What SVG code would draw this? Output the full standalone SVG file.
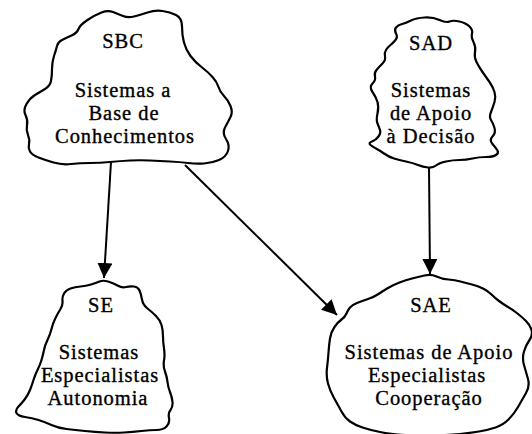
<svg xmlns="http://www.w3.org/2000/svg" width="532" height="434" viewBox="0 0 532 434">
<style>
.cloud{fill:#fff;stroke:#000;stroke-width:2.2;stroke-linejoin:round}
.t{font-size:20.5px;letter-spacing:0.95px;fill:#000;stroke:#000;stroke-width:0.35;text-anchor:middle}
.edge{fill:none;stroke:#000;stroke-width:2}
</style>
<defs>
<marker id="arr" viewBox="0 0 15 15" refX="15" refY="7.5" markerWidth="15" markerHeight="15" markerUnits="userSpaceOnUse" orient="auto">
<path d="M0,0 L15,7.5 L0,15 Z" fill="#000"/>
</marker>
</defs>
<rect width="532" height="434" fill="#fff"/>
<g id="connectors">
<line class="edge" x1="111" y1="162" x2="104" y2="278" marker-end="url(#arr)"/>
<line class="edge" x1="185" y1="165" x2="337" y2="315" marker-end="url(#arr)"/>
<line class="edge" x1="429" y1="168" x2="430" y2="274" marker-end="url(#arr)"/>
</g>
<g id="SBC" font-family="'Liberation Serif', 'DejaVu Serif', serif">
<path class="cloud" d="M78.5,29 Q80,25 87.5,20 Q95,15 101.5,12.5 Q108,10 113,12 Q118,14 123,16 Q128,18 134,16.5 Q140,15 147.5,12.5 Q155,10 162.5,11 Q170,12 176,15 Q182,18 182,26.5 Q182,35 184,42.5 Q186,50 190.5,56 Q195,62 201.5,67 Q208,72 212.5,77 Q217,82 218.5,87 Q220,92 224,96 Q228,100 230.5,106 Q233,112 230.5,117 Q228,122 225,127.5 Q222,133 226,139 Q230,145 228,151 Q226,157 219,160 Q212,163 204,163.5 Q196,164 188,163 Q180,162 170,161.5 Q160,161 150,160.5 Q140,160 130,160.5 Q120,161 110,162 Q100,163 90,163 Q80,163 71,164 Q62,165 53.5,162.5 Q45,160 38.5,157.5 Q32,155 30,151.5 Q28,148 29,144 Q30,140 28,135 Q26,130 27,125 Q28,120 25.5,115 Q23,110 26.5,104 Q30,98 35,95 Q40,92 45,89 Q50,86 51,81 Q52,76 52,69 Q52,62 54,56 Q56,50 57,46 Q58,42 62,40 Q66,38 71.5,35.5 Q77,33 78.5,29 Z"/>
<text class="t" x="123" y="48">SBC</text>
<text class="t" x="123" y="97">Sistemas a</text>
<text class="t" x="124" y="120">Base de</text>
<text class="t" x="125" y="143">Conhecimentos</text>
</g>
<g id="SAD" font-family="'Liberation Serif', 'DejaVu Serif', serif">
<path class="cloud" d="M396,27.5 Q398,25 402,24 Q406,23 411,20.5 Q416,18 424.5,17.5 Q433,17 439.5,20 Q446,23 449.5,21.5 Q453,20 459.5,21.5 Q466,23 469.5,26.5 Q473,30 472,33.5 Q471,37 473.5,42 Q476,47 475,52 Q474,57 476.5,62 Q479,67 482.5,72 Q486,77 489.5,82 Q493,87 494.5,92 Q496,97 494.5,102 Q493,107 491,112 Q489,117 491,120 Q493,123 494.5,128 Q496,133 492.5,136.5 Q489,140 492.5,144 Q496,148 497.5,150.5 Q499,153 496,155 Q493,157 486,157 Q479,157 472.5,158.5 Q466,160 459.5,160 Q453,160 446,161.5 Q439,163 436,165.5 Q433,168 428,167.5 Q423,167 418,165 Q413,163 406,161.5 Q399,160 394,158.5 Q389,157 384,153.5 Q379,150 376,148.5 Q373,147 370.5,145 Q368,143 372,141.5 Q376,140 378.5,136.5 Q381,133 380,130 Q379,127 377.5,123.5 Q376,120 377.5,113.5 Q379,107 377.5,102 Q376,97 372.5,92 Q369,87 372.5,83.5 Q376,80 375,76.5 Q374,73 376.5,70 Q379,67 382.5,63.5 Q386,60 385,56.5 Q384,53 386,50 Q388,47 390.5,45 Q393,43 395.5,40 Q398,37 396,33.5 Q394,30 396,27.5 Z"/>
<text class="t" x="431" y="50">SAD</text>
<text class="t" x="431" y="97">Sistemas</text>
<text class="t" x="431" y="120">de Apoio</text>
<text class="t" x="431" y="143">à Decisão</text>
</g>
<g id="SE" font-family="'Liberation Serif', 'DejaVu Serif', serif">
<path class="cloud" d="M99.5,281.5 Q103,280 108,281.5 Q113,283 117.5,285.5 Q122,288 126,287 Q130,286 134,286.5 Q138,287 139.5,290.5 Q141,294 142,299.5 Q143,305 147.5,308.5 Q152,312 156,316 Q160,320 161.5,325 Q163,330 163,336 Q163,342 164,348.5 Q165,355 164,360.5 Q163,366 165,371.5 Q167,377 167.5,382 Q168,387 170,392 Q172,397 172.5,402 Q173,407 170.5,410 Q168,413 169,418 Q170,423 166.5,426.5 Q163,430 156.5,430 Q150,430 141.5,431 Q133,432 124,432.5 Q115,433 105,432.5 Q95,432 85,431 Q75,430 66.5,429 Q58,428 51.5,425 Q45,422 38.5,420 Q32,418 25,417 Q18,416 16.5,413 Q15,410 18.5,406.5 Q22,403 25,399 Q28,395 30,390 Q32,385 33.5,380 Q35,375 37.5,370 Q40,365 41.5,360 Q43,355 44,350 Q45,345 47.5,340 Q50,335 51.5,329 Q53,323 55.5,318 Q58,313 60.5,309 Q63,305 62.5,301 Q62,297 64,293.5 Q66,290 70.5,288.5 Q75,287 80.5,286.5 Q86,286 91,284.5 Q96,283 99.5,281.5 Z"/>
<text class="t" x="101" y="312">SE</text>
<text class="t" x="99" y="359">Sistemas</text>
<text class="t" x="100" y="382">Especialistas</text>
<text class="t" x="98" y="405">Autonomia</text>
</g>
<g id="SAE" font-family="'Liberation Serif', 'DejaVu Serif', serif">
<path class="cloud" d="M424.5,275.5 Q431,274 436.5,276.5 Q442,279 448.5,279.5 Q455,280 460.5,281.5 Q466,283 472,284.5 Q478,286 483,288.5 Q488,291 491.5,294.5 Q495,298 499,301 Q503,304 508,307 Q513,310 517.5,313.5 Q522,317 526,321 Q530,325 531.5,330 Q533,335 529.5,340 Q526,345 524,351.5 Q522,358 524,365 Q526,372 528,379 Q530,386 526,393 Q522,400 518,407 Q514,414 508.5,419.5 Q503,425 495.5,427.5 Q488,430 479,431.5 Q470,433 460,434 Q450,435 435,435.5 Q420,436 405,435 Q390,434 380,432 Q370,430 362.5,427.5 Q355,425 350,421.5 Q345,418 341.5,411.5 Q338,405 334,398 Q330,391 328,383.5 Q326,376 327,368 Q328,360 328.5,352.5 Q329,345 330,338.5 Q331,332 334.5,327 Q338,322 341.5,319.5 Q345,317 346.5,313.5 Q348,310 350,307.5 Q352,305 357,303 Q362,301 368,299 Q374,297 378.5,294 Q383,291 388,288 Q393,285 399.5,282.5 Q406,280 412,278.5 Q418,277 424.5,275.5 Z"/>
<text class="t" x="431" y="312">SAE</text>
<text class="t" x="429" y="359">Sistemas de Apoio</text>
<text class="t" x="427" y="382">Especialistas</text>
<text class="t" x="429" y="405">Cooperação</text>
</g>
</svg>
